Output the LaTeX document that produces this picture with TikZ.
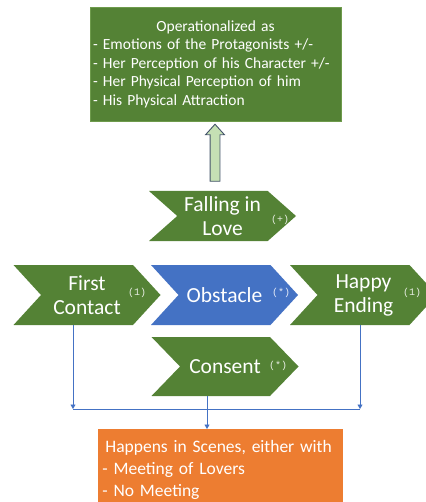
\documentclass[tikz,border=0pt]{standalone}
\usepackage{fontspec}
\setmainfont{Carlito}
\newfontfamily\tagfont{Liberation Mono}
\usetikzlibrary{arrows.meta,shapes.symbols,shapes.arrows}
\definecolor{romGreen}{HTML}{548235}
\definecolor{romEdge}{HTML}{6E9B4C}
\definecolor{romBlue}{HTML}{4472C4}
\definecolor{romOrange}{HTML}{ED7D31}
\definecolor{romPale}{HTML}{C5E0B4}
\definecolor{romSlate}{HTML}{44546A}
\tikzset{
  rom box/.style={rectangle, fill=romGreen, draw=romEdge, line width=0.8pt, text=white, inner sep=0pt},
  rom chevron/.style={shape=signal, signal from=west, signal to=east, fill=romGreen, text=white,
    font=\fontsize{21.5}{24}\selectfont, align=center, inner sep=0pt, minimum width=147pt, minimum height=60pt,
    signal pointer angle=95},
  rom tag/.style={font=\tagfont\fontsize{10}{11}\selectfont, text=white, text opacity=0.85, inner sep=0pt},
  rom link/.style={draw=romBlue, line width=0.9pt},
  rom tip/.style={-{Triangle[width=5pt,length=4.5pt]}},
  rom lift/.style={single arrow, rotate=90, fill=romPale, draw=romSlate, line width=0.9pt,
    minimum height=57pt, minimum width=18pt, inner xsep=0pt, inner ysep=4.5pt,
    single arrow head extend=4.5pt, single arrow tip angle=84},
}

\begin{document}
\begin{tikzpicture}[x=1pt, y=-1pt]
  \useasboundingbox (0,0) rectangle (425,502);
  % operationalisation box and lift arrow
  \node[rom box, minimum width=251pt, minimum height=114pt, text width=245pt, align=left,
    font=\fontsize{15.5}{18.5}\selectfont] (ops) at (215.5,64)
    {\hfil Operationalized as\hfil\\
     - Emotions of the Protagonists +/-\\
     - Her Perception of his Character +/-\\
     - Her Physical Perception of him\\
     - His Physical Attraction};
  \node[rom lift] (lift) at (215,155.5) {};
  % story steps
  \node[rom chevron, minimum height=50pt, signal pointer angle=83] (fall) at (222.5,216) {Falling in\\Love};
  \node[rom chevron] (first) at (87,295) {First\\Contact};
  \node[rom chevron, fill=romBlue] (obst) at (224.5,295) {Obstacle};
  \node[rom chevron] (happy) at (363.5,295) {Happy\\Ending};
  \node[rom chevron, minimum height=59pt, signal pointer angle=92] (cons) at (225,366.5) {Consent};
  \node[rom tag] (fallTag) at (280,220) {(+)};
  \node[rom tag] (firstTag) at (137,293) {(1)};
  \node[rom tag] (obstTag) at (281,293) {(*)};
  \node[rom tag] (happyTag) at (412,293) {(1)};
  \node[rom tag] (consTag) at (278,366) {(*)};
  % scenes box
  \node[rom box, fill=romOrange, draw=none, anchor=north west, minimum width=245pt, minimum height=81pt,
    text width=237pt, align=left, font=\fontsize{17.5}{21.7}\selectfont] (scenes) at (98,429)
    {\hspace{3pt}Happens in Scenes, either with\\- Meeting of Lovers\\- No Meeting};
  % joins
  \coordinate (joinL) at (73,409);
  \coordinate (joinR) at (360,409);
  \coordinate (joinC) at (207,409);
  \draw[rom link, rom tip] (joinL |- first.south) -- (joinL);
  \draw[rom link, rom tip] (joinR |- happy.south) -- (joinR);
  \draw[rom link] (joinL) -- (joinR);
  \draw[rom link, rom tip] (joinC |- cons.south) -- (joinC |- scenes.north);
\end{tikzpicture}
\end{document}
